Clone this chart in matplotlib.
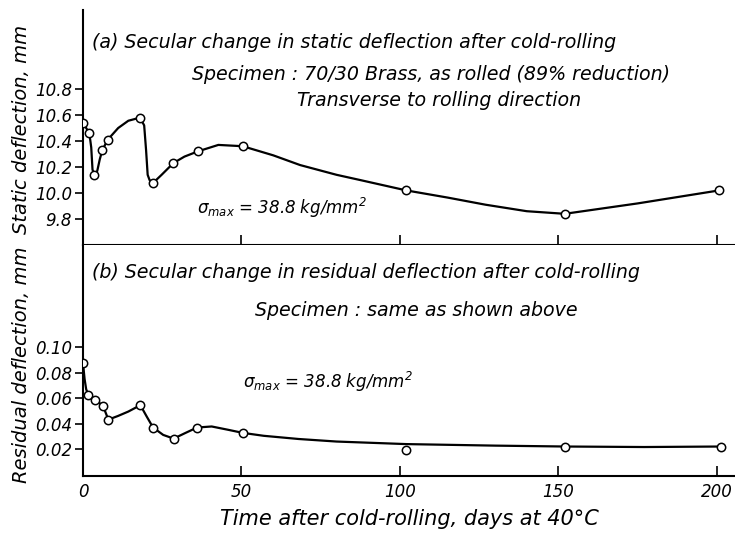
"""Secular change in static / residual deflection after cold-rolling (70/30 brass)."""
import matplotlib
matplotlib.use('Agg')
import matplotlib.pyplot as plt

# measured points, top panel (static deflection, mm)
static_days = [0, 2.0, 3.6, 6.1, 7.8, 18.0, 22.0, 28.5, 36.2, 50.4, 102, 152, 200.7]
static_vals = [10.54, 10.46, 10.14, 10.33, 10.41, 10.58, 10.075, 10.23, 10.32,
               10.36, 10.02, 9.84, 10.02]
# hand-drawn curve through them
static_curve_days = [0, 1, 2, 2.6, 3.0, 3.6, 4.5, 5.3, 6.1, 7.8, 11.1, 14.3, 18,
                     19.3, 19.9, 20.4, 21.0, 22, 24.8, 28.5, 32, 36.2, 42.7,
                     50.4, 60, 68.5, 80, 87.4, 102, 115, 127, 140, 152, 175, 200.7]
static_curve_vals = [10.54, 10.50, 10.46, 10.35, 10.18, 10.14, 10.17, 10.26,
                     10.33, 10.41, 10.50, 10.556, 10.58, 10.52, 10.33, 10.14,
                     10.10, 10.075, 10.14, 10.23, 10.28, 10.32, 10.37, 10.36,
                     10.29, 10.215, 10.14, 10.10, 10.02, 9.965, 9.91, 9.86,
                     9.84, 9.92, 10.02]

# measured points, bottom panel (residual deflection, mm)
resid_days = [0, 1.7, 3.9, 6.3, 8.0, 18.1, 22.1, 28.6, 36.0, 50.4, 102, 152.2, 201.3]
resid_vals = [0.0875, 0.0624, 0.0587, 0.054, 0.0432, 0.0545, 0.037, 0.0283,
              0.037, 0.0328, 0.0195, 0.0221, 0.0221]
resid_curve_days = [0, 0.5, 1.0, 1.7, 3.9, 6.3, 8.0, 11, 14.3, 18.1, 20.1, 22.1,
                    25.3, 28.6, 32.2, 36.0, 40.6, 45.8, 50.4, 57, 68, 80, 102,
                    130, 152.2, 177, 201.3]
resid_curve_vals = [0.0875, 0.075, 0.067, 0.0624, 0.0587, 0.054, 0.0432, 0.046,
                    0.0495, 0.0545, 0.0456, 0.037, 0.0312, 0.0283, 0.0326,
                    0.037, 0.0378, 0.0352, 0.0328, 0.0305, 0.028, 0.026, 0.024,
                    0.0228, 0.0221, 0.0217, 0.0221]

static_ticks = [9.8, 10.0, 10.2, 10.4, 10.6, 10.8]
resid_ticks = [0.02, 0.04, 0.06, 0.08, 0.10]
day_ticks = [0, 50, 100, 150, 200]

plt.rcParams['font.family'] = 'DejaVu Sans'
plt.rcParams['font.style'] = 'italic'
plt.rcParams['mathtext.fontset'] = 'dejavusans'
plt.rcParams['mathtext.default'] = 'it'
FS = 12
NOTE = 13.7
W, H = 735, 535

fig = plt.figure(figsize=(W / 100, H / 100), dpi=100)
ax1 = fig.add_axes([83 / W, 1 - 245 / H, (W - 83) / W, 235 / H])
ax2 = fig.add_axes([83 / W, 1 - 476 / H, (W - 83) / W, 231 / H])

line_kw = dict(color='black', lw=1.6)
mark_kw = dict(ls='none', marker='o', ms=6, mfc='white', mec='black', mew=1.1, zorder=3)

ax1.plot(static_curve_days, static_curve_vals, **line_kw)
ax1.plot(static_days, static_vals, **mark_kw)
ax2.plot(resid_curve_days, resid_curve_vals, **line_kw)
ax2.plot(resid_days, resid_vals, **mark_kw)

for ax in (ax1, ax2):
    ax.set_xlim(0, 205.7)
    for s in ('top', 'right'):
        ax.spines[s].set_visible(False)
    for s in ('left', 'bottom'):
        ax.spines[s].set_linewidth(1.5)
    ax.set_xticks(day_ticks[1:])
    ax.tick_params(axis='x', direction='in', length=7, width=1.2)
    ax.tick_params(axis='y', direction='out', length=6, width=1.2, labelsize=FS, pad=2)

ax1.set_ylim(9.6, 11.408)
ax1.set_yticks(static_ticks)
ax1.set_yticklabels([f'{v:.1f}' for v in static_ticks])
ax1.tick_params(axis='x', labelbottom=False)
ax1.set_ylabel('Static deflection, mm', fontsize=14)
ax1.yaxis.set_label_coords(-0.08, 0.49)

ax2.set_ylim(-0.001, 0.180)
ax2.set_yticks(resid_ticks)
ax2.set_yticklabels([f'{v:.2f}' for v in resid_ticks])
ax2.set_xticks(day_ticks)
ax2.set_xticklabels([str(d) for d in day_ticks], fontsize=FS)
ax2.tick_params(axis='x', pad=5)
ax2.set_ylabel('Residual deflection, mm', fontsize=14)
ax2.yaxis.set_label_coords(-0.08, 0.48)
ax2.set_xlabel('Time after cold-rolling, days at 40\u00b0C', fontsize=15, labelpad=6)

sig = r'$\sigma_{max}$ = 38.8 kg/mm$^2$'
t = dict(fontsize=NOTE, transform=fig.transFigure, va='center')
fig.text(92 / W, 1 - 42 / H, '(a) Secular change in static deflection after cold-rolling', **t)
fig.text(192 / W, 1 - 75 / H, 'Specimen : 70/30 Brass, as rolled (89% reduction)', **t)
fig.text(297 / W, 1 - 101 / H, 'Transverse to rolling direction', **t)
fig.text(92 / W, 1 - 272 / H, '(b) Secular change in residual deflection after cold-rolling', **t)
fig.text(255 / W, 1 - 311 / H, 'Specimen : same as shown above', **t)
t['fontsize'] = FS
fig.text(197 / W, 1 - 208 / H, sig, **t)
fig.text(243 / W, 1 - 382 / H, sig, **t)

fig.savefig('out.png', dpi=100)
